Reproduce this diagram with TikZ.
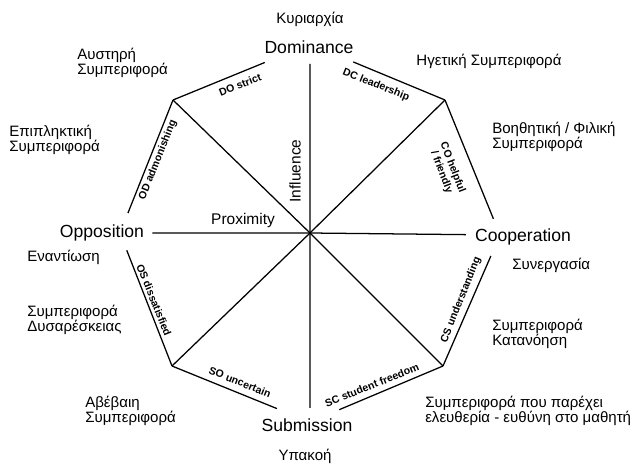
\documentclass[tikz,border=0pt]{standalone}
\usepackage{fontspec}
\setmainfont{Liberation Sans}
\usetikzlibrary{calc}

\begin{document}
\begin{tikzpicture}[x=0.025cm,y=-0.025cm]
	\tikzstyle{pole}=[font=\fontsize{12.5}{14}\selectfont]
	\tikzstyle{axis label}=[font=\fontsize{11}{13}\selectfont]
	\tikzstyle{greek}=[font=\fontsize{10.7}{11}\selectfont,align=left,anchor=west,inner sep=0pt]
	\tikzstyle{side label}=[font=\fontsize{7.5}{8.5}\selectfont\bfseries,align=center,inner sep=0pt]
	\tikzstyle{octagon side}=[-,black,line width=0.9pt]
	\tikzstyle{spoke}=[-,black,line width=0.9pt]

	\useasboundingbox (0,0) rectangle (638,466);

	\coordinate (O) at (310,233);
	\coordinate (N) at (310,44);
	\coordinate (NE) at (445,100);
	\coordinate (E) at (500,235);
	\coordinate (SE) at (443,366);
	\coordinate (S) at (310,422);
	\coordinate (SW) at (172,366);
	\coordinate (W) at (120,233);
	\coordinate (NW) at (173,100);

	\coordinate (top) at ($(O)!0.895!(N)$);
	\coordinate (bottom) at ($(O)!0.925!(S)$);
	\coordinate (left) at ($(O)!0.83!(W)$);
	\coordinate (right) at ($(O)!0.82!(E)$);

	\draw[spoke] (O) -- (top);
	\draw[spoke] (O) -- (bottom);
	\draw[spoke] (O) -- (left);
	\draw[spoke] (O) -- (right);
	\draw[spoke] (O) -- (NW);
	\draw[spoke] (O) -- (NE);
	\draw[spoke] (O) -- (SW);
	\draw[spoke] (O) -- (SE);

	\draw[octagon side] (NW) -- ($(NW)!0.67!(N)$);
	\draw[octagon side] (NE) -- ($(NE)!0.68!(N)$);
	\draw[octagon side] (NW) -- ($(NW)!0.85!(W)$);
	\draw[octagon side] ($(W)!0.13!(SW)$) -- (SW);
	\draw[octagon side] (NE) -- ($(NE)!0.88!(E)$);
	\draw[octagon side] ($(E)!0.16!(SE)$) -- (SE);
	\draw[octagon side] (SW) -- ($(SW)!0.76!(S)$);
	\draw[octagon side] (SE) -- ($(SE)!0.78!(S)$);

	\node[pole] (dominance) at (309,47)			{Dominance};
	\node[pole] (submission) at (307,425)		{Submission};
	\node[pole] (opposition) at (102,233)		{Opposition};
	\node[pole] (cooperation) at (523,237)		{Cooperation};

	\node[axis label] (influence) at (295,171) [rotate=90]	{Influence};
	\node[axis label] (proximity) at (243,220)				{Proximity};

	\node[side label] (do) at (240,85) [rotate=22]		{DO strict};
	\node[side label] (dc) at (376,85) [rotate=-22]		{DC leadership};
	\node[side label] (co) at (447,170) [rotate=-69]	{CO helpful\\/ friendly};
	\node[side label] (cs) at (461,300) [rotate=68]		{CS understanding};
	\node[side label] (od) at (158,160) [rotate=68]		{OD admonishing};
	\node[side label] (os) at (154,300) [rotate=-68]	{OS dissatisfied};
	\node[side label] (so) at (240,382) [rotate=-22]	{SO uncertain};
	\node[side label] (sc) at (372,385) [rotate=22]		{SC student freedom};

	\node[greek,anchor=center] (kyriarxia) at (310,19)	{Κυριαρχία};
	\node[greek,anchor=center] (ypakoi) at (305,456)	{Υπακοή};
	\node[greek] (enantiosi) at (27,257)				{Εναντίωση};
	\node[greek] (synergasia) at (512,265)			{Συνεργασία};
	\node[greek] (austiri) at (77,63)				{Αυστηρή\\Συμπεριφορά};
	\node[greek,anchor=center] (igetiki) at (489,61)	{Ηγετική Συμπεριφορά};
	\node[greek] (voithitiki) at (492,137)			{Βοηθητική / Φιλική\\Συμπεριφορά};
	\node[greek] (epiplitiki) at (9,140)			{Επιπληκτική\\Συμπεριφορά};
	\node[greek] (dysareskeia) at (27,320)			{Συμπεριφορά\\Δυσαρέσκειας};
	\node[greek] (katanoisi) at (492,334)			{Συμπεριφορά\\Κατανόηση};
	\node[greek] (eleutheria) at (425,411)			{Συμπεριφορά που παρέχει\\ελευθερία - ευθύνη στο μαθητή};
	\node[greek] (avevaii) at (85,411)				{Αβέβαιη\\Συμπεριφορά};
\end{tikzpicture}
\end{document}
